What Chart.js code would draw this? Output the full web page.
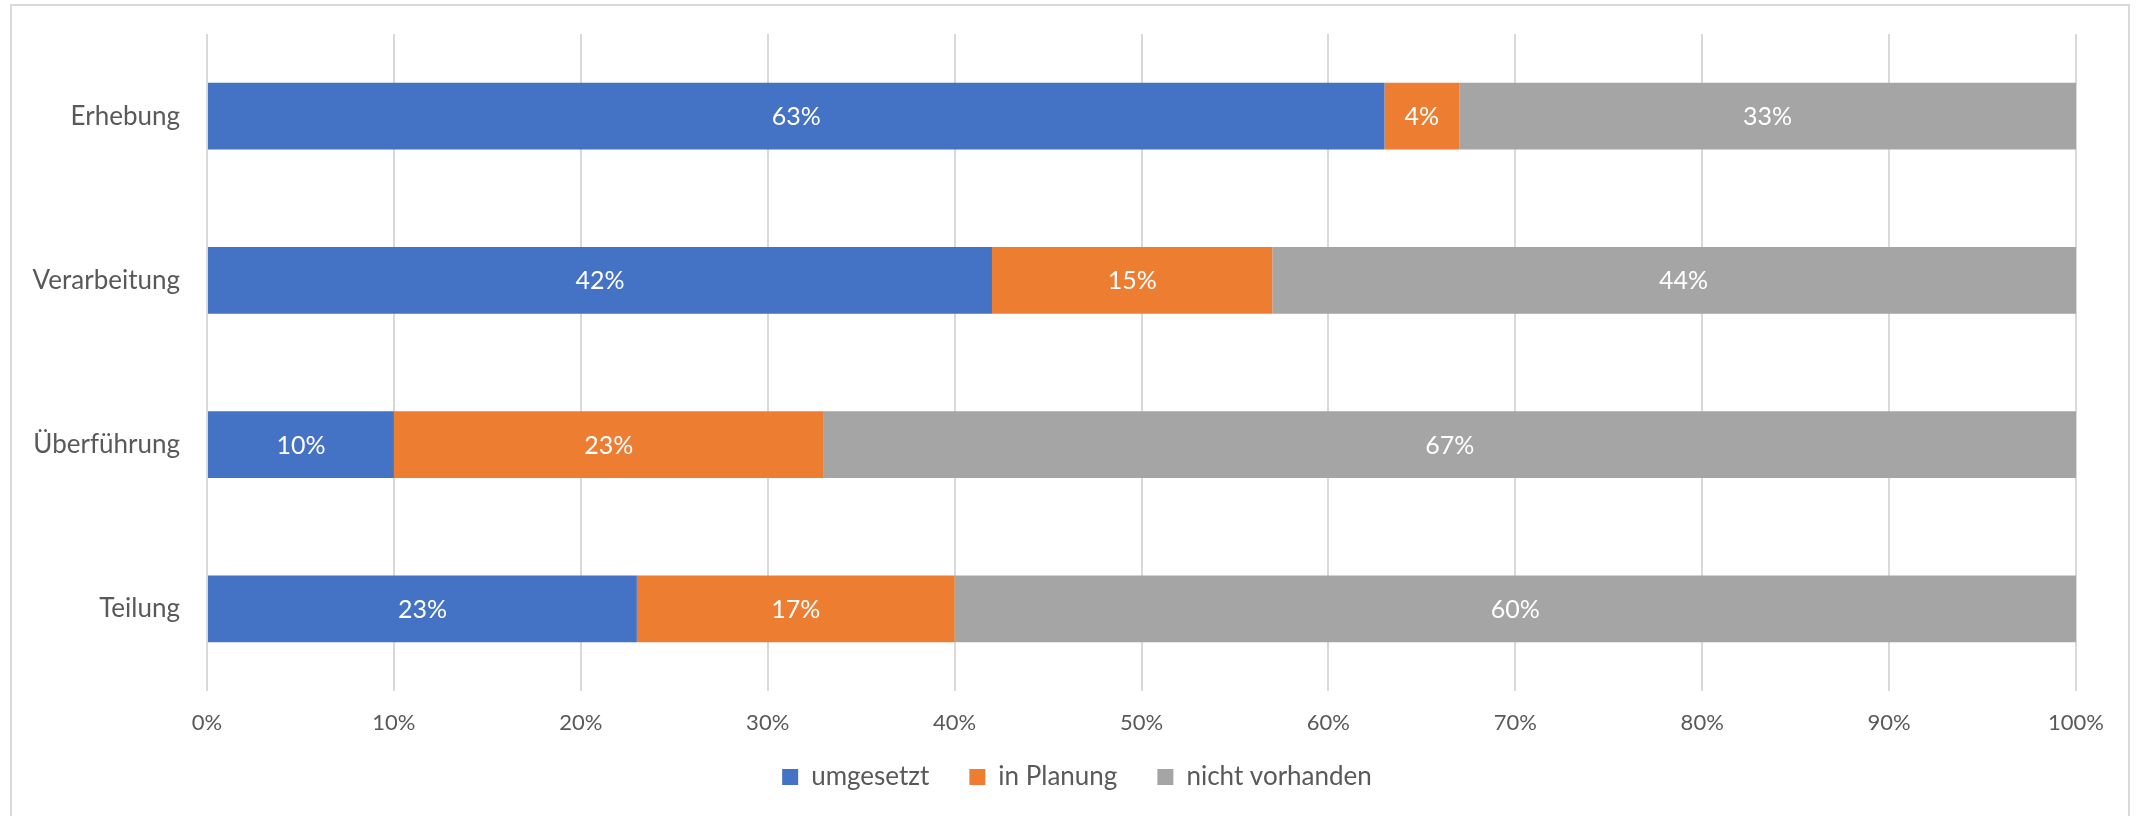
<!DOCTYPE html>
<html>
<head>
<meta charset="utf-8">
<script src="https://cdn.jsdelivr.net/npm/chart.js@4"></script>
<style>
  html, body { margin: 0; padding: 0; background: #fff; overflow: hidden; }
  #wrap { position: relative; width: 2138px; height: 816px; }
  #frame {
    position: absolute; left: 10px; top: 4px; width: 2120px; height: 840px;
    border: 2px solid #d9d9d9; box-sizing: border-box;
  }
  canvas { position: absolute; left: 0; top: 0; }
</style>
</head>
<body>
<div id="wrap">
  <div id="frame"></div>
  <canvas id="stack" width="2138" height="816"></canvas>
</div>
<script>
const categories = ["Erhebung", "Verarbeitung", "Überführung", "Teilung"];
const umgesetzt = [63, 42, 10, 23];
const inPlanung = [4, 15, 23, 17];
const nichtVorhanden = [33, 44, 67, 60];
const xTicks = [0, 10, 20, 30, 40, 50, 60, 70, 80, 90, 100];

const textGrey = "#595959";
const fontFam = "Lato, 'Open Sans', sans-serif";

// white percentage in the middle of every bar segment
const segmentLabels = {
  id: "segmentLabels",
  afterDatasetsDraw(chart) {
    const ctx = chart.ctx;
    ctx.save();
    ctx.fillStyle = "#ffffff";
    ctx.font = "25px " + fontFam;
    ctx.textAlign = "center";
    ctx.textBaseline = "middle";
    chart.data.datasets.forEach((ds, i) => {
      const meta = chart.getDatasetMeta(i);
      meta.data.forEach((bar, j) => {
        const p = bar.getCenterPoint();
        ctx.fillText(ds.data[j] + "%", p.x, p.y + 1);
      });
    });
    ctx.restore();
  }
};

// nudge the legend a bit up and towards the right
const legendShift = {
  id: "legendShift",
  afterLayout(chart) {
    const lg = chart.legend;
    lg.left += 78;
    lg.top -= 16;
    lg.bottom -= 16;
  }
};

const ctx = document.querySelector("#stack").getContext("2d");

new Chart(ctx, {
  type: "bar",
  data: {
    labels: categories,
    datasets: [
      { label: "umgesetzt", data: umgesetzt, backgroundColor: "#4472c4" },
      { label: "in Planung", data: inPlanung, backgroundColor: "#ed7d31" },
      { label: "nicht vorhanden", data: nichtVorhanden, backgroundColor: "#a5a5a5" }
    ]
  },
  plugins: [segmentLabels, legendShift],
  options: {
    indexAxis: "y",
    responsive: false,
    animation: false,
    categoryPercentage: 1,
    barPercentage: 0.405,
    layout: { padding: { left: 0, right: 62, top: 34, bottom: 0 } },
    plugins: {
      tooltip: { enabled: false },
      legend: {
        position: "bottom",
        labels: {
          color: textGrey,
          font: { family: fontFam, size: 26 },
          boxWidth: 16,
          boxHeight: 16,
          padding: 40
        }
      }
    },
    scales: {
      x: {
        stacked: true,
        min: 0,
        max: 100,
        afterBuildTicks(scale) {
          scale.ticks = xTicks.map(v => ({ value: v }));
        },
        afterFit(scale) { scale.height = 49; },
        grid: { color: "#d9d9d9", lineWidth: 2, drawTicks: false },
        border: { display: false },
        ticks: {
          color: textGrey,
          font: { family: fontFam, size: 22 },
          padding: 19,
          callback: v => v + "%"
        }
      },
      y: {
        stacked: true,
        afterFit(scale) {
          scale.width = 207;
          scale.paddingTop = 0;
          scale.paddingBottom = 0;
        },
        grid: { display: false },
        border: { display: false },
        ticks: {
          color: textGrey,
          font: { family: fontFam, size: 26 },
          padding: 19
        }
      }
    }
  }
});
</script>
</body>
</html>
